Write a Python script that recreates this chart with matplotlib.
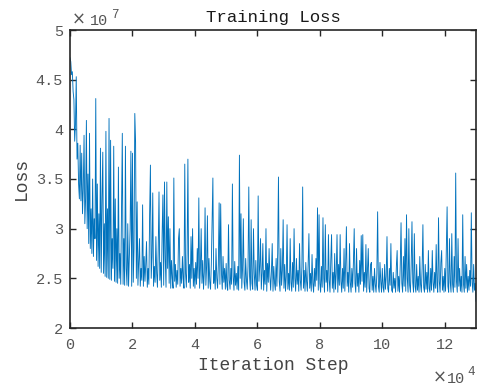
import numpy as np
import matplotlib
matplotlib.use("Agg")
import matplotlib.pyplot as plt
from matplotlib.ticker import FuncFormatter

# ---- data (loss in units of 1e7, one value every 250 iterations) ----
step = 250
loss_e7_rows = [
    [4.72, 4.68, 4.55, 4.58, 4.38, 4.30, 3.88, 4.05, 4.53, 3.70, 3.86, 3.45, 3.30, 3.84, 3.28, 3.76, 3.15, 3.40, 3.94, 3.05],
    [3.30, 4.09, 3.00, 3.55, 2.85, 3.96, 2.80, 3.20, 2.75, 3.50, 2.72, 3.10, 2.90, 4.31, 2.68, 3.45, 2.62, 3.15, 2.60, 3.81],
    [2.56, 3.30, 3.77, 2.55, 3.05, 2.52, 3.98, 2.51, 3.20, 2.50, 4.11, 2.49, 3.89, 2.48, 2.90, 2.60, 3.83, 2.47, 3.30, 2.46],
    [3.00, 2.45, 3.62, 2.50, 2.75, 2.44, 3.20, 3.96, 2.44, 2.90, 2.43, 3.83, 2.60, 2.43, 3.05, 2.42, 2.70, 3.00, 3.78, 2.42],
    [3.76, 2.46, 2.80, 4.16, 3.87, 2.50, 3.27, 2.43, 2.66, 2.90, 2.42, 2.60, 2.48, 3.24, 2.42, 2.72, 2.47, 2.64, 2.87, 2.41],
    [2.60, 2.44, 3.15, 3.64, 2.50, 2.72, 3.36, 2.42, 2.62, 2.46, 2.92, 2.55, 2.41, 2.80, 3.37, 2.48, 2.66, 2.41, 2.95, 3.34],
    [2.43, 3.47, 2.70, 2.41, 3.47, 2.60, 3.12, 2.45, 3.00, 2.40, 2.68, 2.50, 2.40, 3.51, 2.47, 2.64, 2.41, 2.58, 2.44, 2.90],
    [3.00, 2.42, 2.60, 2.45, 2.72, 2.50, 2.40, 3.65, 2.55, 2.41, 2.75, 3.70, 2.46, 2.64, 2.40, 2.92, 2.50, 3.00, 2.42, 2.60],
    [2.40, 2.66, 2.44, 2.80, 2.50, 3.31, 2.40, 2.60, 3.00, 2.45, 2.68, 2.39, 2.56, 3.21, 2.43, 2.62, 3.13, 2.40, 2.70, 2.47],
    [2.39, 2.64, 3.06, 3.51, 2.45, 2.58, 2.39, 2.80, 2.50, 2.40, 2.64, 3.26, 2.44, 3.25, 2.55, 2.39, 2.72, 2.46, 2.60, 2.39],
    [2.65, 2.42, 2.38, 3.04, 2.48, 2.39, 2.60, 2.44, 3.45, 2.52, 2.38, 2.67, 2.43, 2.55, 2.39, 2.62, 2.38, 3.74, 2.50, 3.15],
    [2.40, 2.60, 3.10, 2.46, 2.38, 2.70, 2.48, 2.39, 2.62, 3.42, 2.52, 2.38, 3.09, 2.45, 2.39, 3.00, 2.55, 2.38, 2.68, 2.43],
    [2.38, 3.33, 2.47, 2.62, 2.90, 2.39, 2.55, 2.85, 2.38, 2.58, 2.44, 3.00, 2.37, 2.65, 2.46, 2.80, 2.52, 2.38, 2.57, 2.85],
    [2.37, 2.62, 2.45, 2.38, 2.70, 2.42, 2.75, 3.52, 2.47, 2.37, 2.80, 2.43, 2.58, 3.09, 2.40, 2.64, 2.37, 2.52, 3.04, 2.39],
    [2.55, 2.38, 2.90, 2.46, 2.37, 2.66, 2.41, 3.00, 2.50, 2.37, 2.70, 2.44, 2.58, 2.37, 2.85, 2.48, 2.38, 2.62, 3.42, 2.40],
    [2.58, 2.37, 2.66, 2.47, 2.37, 2.64, 2.95, 2.40, 2.55, 2.37, 2.74, 2.45, 2.36, 2.60, 2.42, 2.70, 2.48, 3.21, 2.38, 3.14],
    [2.45, 2.36, 2.62, 2.41, 3.11, 2.50, 2.36, 3.04, 2.46, 2.58, 2.37, 2.94, 2.48, 2.36, 2.68, 2.94, 2.40, 2.56, 2.36, 2.75],
    [2.39, 2.55, 2.94, 2.36, 2.64, 2.43, 2.94, 2.47, 2.36, 2.60, 2.40, 2.80, 2.37, 2.63, 3.02, 2.42, 2.56, 2.36, 2.85, 2.46],
    [2.36, 2.60, 2.41, 2.66, 3.00, 2.45, 2.36, 2.80, 2.42, 2.55, 2.36, 2.68, 2.44, 2.93, 2.47, 2.94, 2.37, 2.56, 2.41, 2.84],
    [2.36, 2.58, 2.80, 2.40, 2.36, 2.64, 2.66, 2.38, 2.52, 2.36, 2.60, 2.44, 2.36, 2.55, 3.17, 2.42, 2.36, 2.66, 2.47, 2.36],
    [2.60, 2.41, 2.36, 2.64, 2.39, 2.52, 2.92, 2.40, 2.36, 2.60, 2.43, 2.85, 2.38, 2.36, 2.56, 2.40, 2.50, 2.36, 2.62, 2.78],
    [2.37, 2.52, 2.36, 2.64, 3.06, 2.45, 2.36, 2.72, 2.42, 2.90, 2.37, 3.14, 2.50, 2.36, 3.00, 2.43, 2.36, 2.64, 3.07, 2.46],
    [2.36, 2.95, 2.42, 2.36, 2.64, 2.38, 2.52, 2.36, 2.72, 2.44, 2.36, 2.60, 3.04, 2.41, 2.36, 2.64, 2.39, 2.56, 2.36, 2.78],
    [2.40, 2.36, 2.60, 2.38, 2.78, 2.46, 2.36, 2.56, 2.40, 2.84, 2.43, 2.36, 3.11, 2.47, 2.36, 2.66, 2.78, 2.38, 2.52, 2.36],
    [2.60, 2.37, 2.80, 3.22, 2.42, 2.36, 2.90, 2.46, 2.36, 2.95, 2.44, 2.36, 2.72, 2.41, 3.56, 2.47, 2.36, 2.90, 2.42, 2.60],
    [2.37, 2.52, 2.36, 3.14, 2.44, 2.36, 2.72, 2.40, 2.64, 2.36, 2.52, 2.38, 2.58, 2.42, 3.16, 2.46, 2.36, 2.64, 2.38, 2.45],
    [2.27],
]
x_ticks = [0, 2, 4, 6, 8, 10, 12]          # in units of 1e4
y_ticks = [2, 2.5, 3, 3.5, 4, 4.5, 5]      # in units of 1e7
title = "Training Loss"
xlabel = "Iteration Step"
ylabel = "Loss"

loss = np.concatenate([np.array(r) for r in loss_e7_rows]) * 1e7
iters = np.arange(len(loss)) * step

# ---- figure ----
FONT = "Liberation Mono"
plt.rcParams["font.family"] = [FONT, "DejaVu Sans"]
fig = plt.figure(figsize=(4.86, 3.87), dpi=100)
ax = fig.add_axes([70 / 486, 1 - 328 / 387, 406 / 486, 298 / 387])

ax.plot(iters, loss, color="#0072BD", linewidth=0.65)

ax.set_xlim(0, 13e4)
ax.set_ylim(2e7, 5e7)
ax.set_xticks([t * 1e4 for t in x_ticks])
ax.set_yticks([t * 1e7 for t in y_ticks])
ax.xaxis.set_major_formatter(FuncFormatter(lambda v, p: f"{v / 1e4:g}"))
ax.yaxis.set_major_formatter(FuncFormatter(lambda v, p: f"{v / 1e7:g}"))

axcol = "#262626"
for s in ax.spines.values():
    s.set_color(axcol)
    s.set_linewidth(1.2)
ax.tick_params(direction="in", length=4, width=1.0, color=axcol,
               top=True, right=True, labelsize=11, labelcolor="#555555")
ax.tick_params(axis="x", pad=7)
ax.tick_params(axis="y", pad=5)

ax.set_title(title, fontsize=12.5, color="#1a1a1a", pad=6)
ax.set_xlabel(xlabel, fontsize=13, color="#444444", labelpad=4)
ax.set_ylabel(ylabel, fontsize=13, color="#444444", labelpad=4)

# multiplier labels
tc = "#555555"
def px(x, y):
    return x / 486, 1 - y / 387
fig.text(*px(72, 25), "×", fontsize=12, color=tc, ha="left", va="baseline",
         family="DejaVu Sans")
fig.text(*px(90, 25), "10", fontsize=11, color=tc, ha="left", va="baseline")
fig.text(*px(111, 18), "7", fontsize=9, color=tc, ha="left", va="baseline")
fig.text(*px(433, 383), "×", fontsize=12, color=tc, ha="left", va="baseline",
         family="DejaVu Sans")
fig.text(*px(447, 383), "10", fontsize=11, color=tc, ha="left", va="baseline")
fig.text(*px(467, 375), "4", fontsize=9, color=tc, ha="left", va="baseline")

fig.savefig("out.png", dpi=100)
